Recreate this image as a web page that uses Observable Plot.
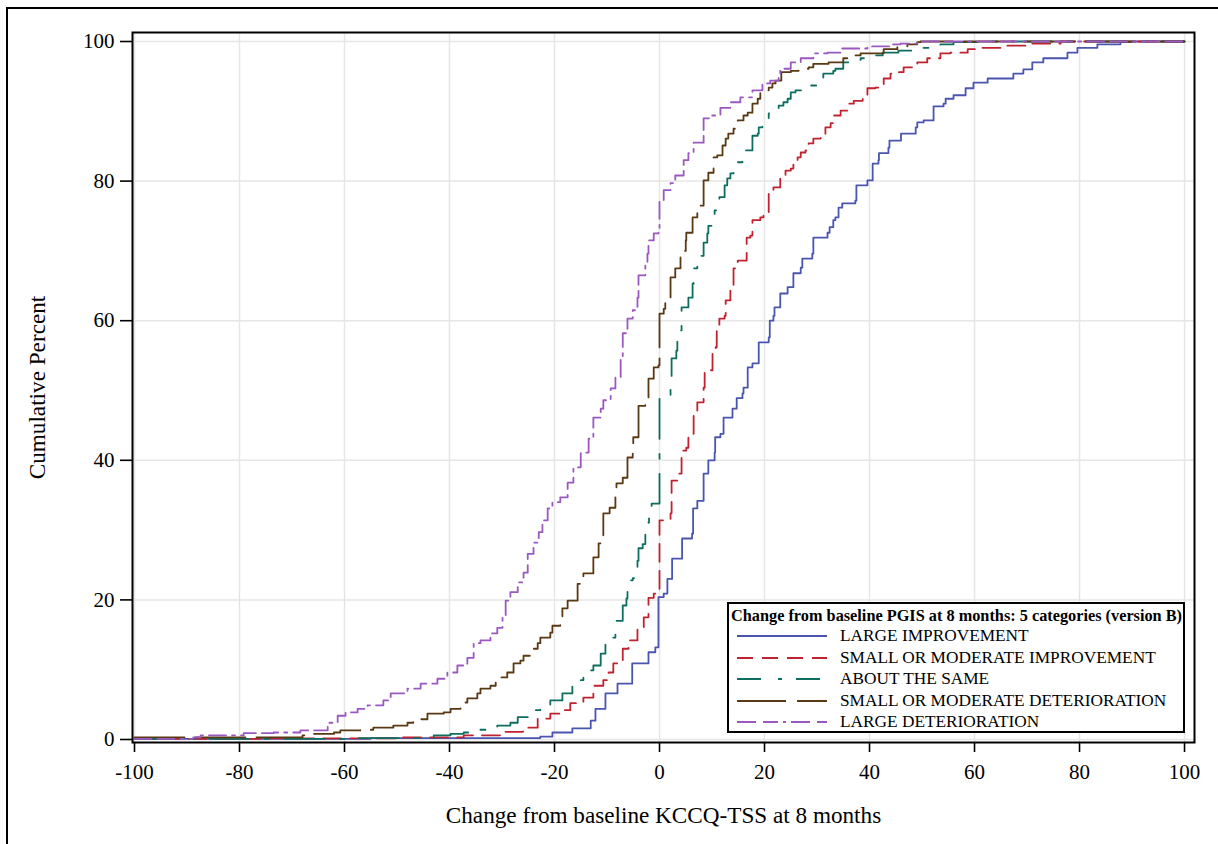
<!DOCTYPE html>
<html><head><meta charset="utf-8">
<script src="https://cdn.jsdelivr.net/npm/d3@7"></script>
<script src="https://cdn.jsdelivr.net/npm/@observablehq/plot@0.6"></script>
<style>
html,body{margin:0;padding:0;background:#fff;overflow:hidden;width:1218px;height:844px;}
#wrap{position:relative;width:1218px;height:844px;overflow:hidden;}
#btop{position:absolute;left:6px;top:7px;width:1212px;height:2px;background:#000;}
#bleft{position:absolute;left:6px;top:7px;width:2px;height:837px;background:#000;}
#chart{position:absolute;left:0;top:0;}
#legend{position:absolute;left:727px;top:602px;width:458px;height:131px;border:2px solid #000;box-sizing:border-box;background:#fff;font-family:"Liberation Serif","Times New Roman",serif;color:#000;}
#legend .title{position:absolute;left:2px;top:2px;font-weight:bold;font-size:16.3px;white-space:nowrap;line-height:19px;}
#legend .row{position:absolute;left:0;height:20px;width:100%;}
#legend .row svg{position:absolute;left:8px;top:0;}
#legend .row span{position:absolute;left:111px;top:0px;font-size:17.3px;white-space:nowrap;line-height:20px;}
</style></head>
<body><div id="wrap"><div id="btop"></div><div id="bleft"></div><div id="chart"></div><div id="legend"></div></div>
<script>
const categories = ["LARGE IMPROVEMENT","SMALL OR MODERATE IMPROVEMENT","ABOUT THE SAME","SMALL OR MODERATE DETERIORATION","LARGE DETERIORATION"];
const colors = ["#4a55b0","#c0222f","#0d6e5f","#5a3812","#9a58c0"];
const dashes = ["none","18,9","40,15,5,15","50,11","17,6,17,6,3,6"];
const legendDashes = ["none","16,9","24,17,4,14","49,11","19,7,15,5,3,5"];
const legendTitle = "Change from baseline PGIS at 8 months: 5 categories (version B)";
const xLabel = "Change from baseline KCCQ-TSS at 8 months";
const yLabel = "Cumulative Percent";
const xTicks = [-100,-80,-60,-40,-20,0,20,40,60,80,100];
const yTicks = [0,20,40,60,80,100];

const largeImpX = [-100,-55,-22.7,-20.4,-16.6,-13.1,-12.2,-10.3,-8,-5.2,-2.1,-0.8,-0.2,0.8,1.5,2.4,4.3,6.2,6.4,7.2,8.4,9.3,10.5,10.6,11.6,12.2,13.9,14.7,15.8,16,16.8,17.7,18.9,20.8,21,21.7,21.9,23,24.4,25.5,26.9,27.2,29.1,29.3,32,32.4,33.1,33.5,34.1,34.8,37.3,37.5,39.6,40.6,41.7,41.8,43.6,43.8,46,48.8,49.1,50.3,52.2,54.1,54.5,56,58.3,59.8,62.5,67.4,69.3,71,73.1,77.7,79.6,83.4,87.8,89.7,100];
const largeImpY = [0.1,0.2,0.4,1.0,1.6,2.7,4.4,6.6,8,10.9,12.5,13.2,20.4,20.9,23,25.9,28.8,29.5,33.1,34.2,38.1,40,41.1,43.3,43.8,46.1,47.4,48.9,49.6,50.4,53.3,53.9,56.9,57.6,60,60.7,61.9,63.9,64.8,66.8,67.6,68.9,69.6,71.9,72.6,73.4,74.4,74.8,76.2,76.8,77.2,79.4,80.1,82.5,83,84,84.8,85.8,86.8,87.7,88.4,88.7,90.7,91.1,91.8,92.3,93.3,94.1,94.7,95.4,96,97,97.6,98.4,99.1,99.6,99.9,100,100];

const smallImpX = [-100,-75,-50,-37.3,-29.7,-26,-23.2,-20.8,-18.5,-17,-14.5,-12.6,-10.7,-9.7,-8.8,-7,-5.9,-4.2,-3,-2.1,-1.1,-0.3,0,2.1,2.3,3.4,4.2,5.1,5.5,6.3,6.5,7.2,8.4,8.6,9.3,10.1,10.7,10.9,11.4,12.4,12.6,13.5,14.1,14.9,16.6,17.3,17.7,19.2,19.8,20.8,21.7,23,24,25,25.5,26.3,26.9,27.8,28.4,29.3,30.7,31.6,32.6,33.1,34.5,35.8,37,38.7,39.6,41.1,42.7,44,44.6,46.5,48.4,49.1,51,53.5,55.4,58.7,61.1,65,70.1,76.4,100];
const smallImpY = [0.1,0.15,0.3,0.6,1.1,1.7,3,3.7,4.2,5.2,6,7.7,8.5,9.6,10.9,13,14.2,16,17.5,20.3,20.9,21.3,31.4,32.4,37.1,38.1,41.4,41.8,43.3,43.8,46.7,48.3,50.4,52.6,52.9,55.3,56.2,59,60.3,60.7,62.9,64.8,67.5,68.6,71.9,72.2,74.4,74.8,75.5,78.2,79.1,80.8,81.5,81.8,82.7,83.4,84.1,84.4,85.4,86.1,86.5,87.7,88.3,89.4,90.1,91.1,91.5,92,93.3,93.4,94.7,95.4,95.6,96.3,96.8,97,97.6,98.3,98.4,98.9,99.1,99.4,99.7,100,100];

const sameX = [-100,-60,-43,-39.8,-37.3,-34.7,-30.9,-28.4,-27,-25.1,-22.7,-20.8,-18.5,-16.6,-15.4,-14.5,-12.6,-11.2,-10.3,-9.3,-8.4,-7,-6.3,-6.1,-5.1,-4.2,-4,-3.2,-2.7,-2.1,-2.0,-1.5,0,0.8,2.1,2.3,3.2,3.4,4,4.2,5.5,6.3,6.5,7.2,8.4,9.1,9.3,10.1,10.5,11.4,12.4,12.9,13.5,14.1,14.7,15.8,16.4,17.7,18.7,18.9,19.6,19.8,20.8,22.7,23.6,24.4,25,25.9,28.2,30.3,31.2,33.1,33.5,35,38.3,40.8,42.5,45.5,48.8,53.5,56,62,100];
const sameY = [0.1,0.2,0.6,0.8,1,1.4,2,2.4,3.2,4.2,4.7,5.6,6.6,8,8.5,9.9,10.6,12.3,13.9,14.6,17,19.2,20.2,22.8,23.1,25.6,27.4,28,29.7,31.1,33.1,33.8,49,49.3,50.7,54.6,55.7,57.2,58.6,61.9,63.3,65.3,67.5,69.3,71.2,72.5,73.6,74.4,75.8,77.7,79.4,80.4,81.1,81.9,82.7,83.9,84.4,86.5,86.8,87.7,88,88.4,89.7,90.8,91.3,91.8,92.7,93,93.7,94.8,95.4,95.8,96.1,97,97.6,98,98.4,98.7,99.1,99.6,99.9,100,100];

const smallDetX = [-100,-68,-65.9,-62,-60.8,-57,-54.5,-50.7,-48,-46.9,-44.2,-41.1,-39.8,-37.9,-36.6,-34.7,-34.1,-32.2,-31.2,-29,-27.8,-26.5,-25.9,-24.6,-23.2,-22.7,-20.8,-20.4,-18.9,-18.5,-17.5,-15.6,-14.5,-12.6,-11.6,-10.7,-9.5,-8.4,-8.2,-7,-6.1,-5.1,-5,-4,-2.7,-2.1,-1.1,-0.2,0,0.8,1.1,2.1,3,4,5,5.1,6.3,7.2,8.4,9.3,10.3,11,12,12.6,13.1,14.1,14.9,16,16.8,17.7,18.7,19.2,20.2,20.8,21.5,22.1,23.2,25,26.5,28.4,29.3,32.2,35,36.4,38.3,42.7,45.3,47.2,49.1,49.7,100];
const smallDetY = [0.3,0.6,0.8,1,1.3,1.4,1.7,2,2.4,2.9,3.7,3.9,4.4,5.3,5.9,6.6,7.3,7.7,8.9,9.6,10.9,11.3,12,13,13.8,14.6,15.3,16.3,17.5,18.8,19.9,22.3,23.8,26.1,28.1,32.4,33.2,35.2,36.7,37.5,40.4,41.8,43.3,47.8,49,51.7,53.3,53.6,61,61.7,62.9,66.2,67.5,70,71.5,72.6,74.8,76.5,80.1,81.2,83.4,83.7,85.1,86.1,86.8,87.5,88.7,89.4,89.8,91.1,91.8,92.6,93,93.4,94,94.4,95.6,95.8,96.1,96.3,96.8,97,97.6,98,98.3,98.9,99.3,99.6,99.9,100,100];

const largeDetX = [-100,-88.8,-87.4,-79.2,-73.5,-68.4,-63.2,-61.3,-59.8,-57.5,-55.6,-52.6,-51.2,-48,-45.5,-42.3,-40.4,-38.5,-36.6,-35.4,-34.1,-32.2,-30.9,-29.9,-29.3,-28.4,-27,-25.9,-25.1,-24,-23,-22.3,-21.3,-20.4,-18.9,-17.5,-16.4,-15,-13.5,-12.6,-11.2,-10.7,-9.3,-8.4,-7.4,-7,-6.1,-5.1,-4.2,-4,-2.7,-2.3,-2.1,-1.1,-0.2,0,0.8,2.1,3,4.6,5.5,6.5,8.4,9.7,11.6,13.5,15.4,17.7,19.6,21.1,22.7,23,25,26.9,29.3,32,34.5,39.6,44,45.9,49.1,100];
const largeDetY = [0.1,0.3,0.6,0.9,1,1.3,2.4,3.4,3.9,4.4,4.9,5.6,6.6,7.3,8,8.7,9.6,10.6,11.7,13.8,14.2,15.2,16,17.8,19.9,21.1,22.5,23.9,26.6,28.2,29.7,31.4,33.1,34,34.7,36.8,39,41.1,43.1,46.1,47.4,48.6,50.3,51.9,54.7,58.2,60.3,61.5,63.3,66.5,68.2,69.6,71.5,72.5,73.2,77.2,78.7,79.7,80.8,83,84,85.5,89,89.4,90.5,91.3,92,93,94,94.4,95.4,96.1,97,97.6,98.3,98.4,99,99.3,99.6,99.7,100,100];

const seriesX = [largeImpX, smallImpX, sameX, smallDetX, largeDetX];
const seriesY = [largeImpY, smallImpY, sameY, smallDetY, largeDetY];

const table = categories.flatMap((c, i) => seriesX[i].map((x, j) => ({cat: c, x, y: seriesY[i][j]})));

const lineMarks = categories.map((c, i) => Plot.line(table.filter(d => d.cat === c), {
  x: "x", y: "y", curve: "step-after", stroke: colors[i], strokeWidth: 1.8,
  strokeDasharray: dashes[i] === "none" ? null : dashes[i]
}));

const chart = Plot.plot({
  width: 1218, height: 844,
  marginLeft: 132, marginRight: 24, marginTop: 32, marginBottom: 102,
  x: {domain: [-100.38, 101.9]},
  y: {domain: [-0.43, 101.29]},
  style: {fontFamily: '"Liberation Serif","Times New Roman",serif', fontSize: "21px", color: "#000", background: "transparent"},
  marks: [
    Plot.gridX(xTicks, {stroke: "#e6e6e6", strokeOpacity: 1, strokeWidth: 1.5}),
    Plot.gridY(yTicks, {stroke: "#e6e6e6", strokeOpacity: 1, strokeWidth: 1.5}),
    ...lineMarks,
    Plot.frame({stroke: "#000", strokeWidth: 2}),
    Plot.axisX({ticks: xTicks, tickSize: 10, tickPadding: 12, tickFormat: d => String(d), strokeWidth: 1.6, fontSize: 21, label: null}),
    Plot.axisX({ticks: [], label: xLabel, labelAnchor: "center", labelArrow: "none", labelOffset: 80, fontSize: 23.2}),
    Plot.axisY({ticks: yTicks, tickSize: 12, tickPadding: 6, strokeWidth: 1.6, fontSize: 21, label: null}),
    Plot.axisY({ticks: [], label: yLabel, labelAnchor: "center", labelArrow: "none", labelOffset: 104, fontSize: 23.2})
  ]
});
document.getElementById("chart").appendChild(chart);

// legend inside the plot
const leg = document.getElementById("legend");
const t = document.createElement("div"); t.className = "title"; t.textContent = legendTitle; leg.appendChild(t);
const rowTops = [22, 44, 65, 87, 108];
categories.forEach((c, i) => {
  const row = document.createElement("div"); row.className = "row"; row.style.top = rowTops[i] + "px";
  const s = d3.create("svg").attr("width", 92).attr("height", 20);
  s.append("line").attr("x1", 0).attr("x2", 90).attr("y1", 10).attr("y2", 10)
    .attr("stroke", colors[i]).attr("stroke-width", 2)
    .attr("stroke-dasharray", legendDashes[i] === "none" ? null : legendDashes[i]);
  row.appendChild(s.node());
  const sp = document.createElement("span"); sp.textContent = c; row.appendChild(sp);
  leg.appendChild(row);
});
</script></body></html>
